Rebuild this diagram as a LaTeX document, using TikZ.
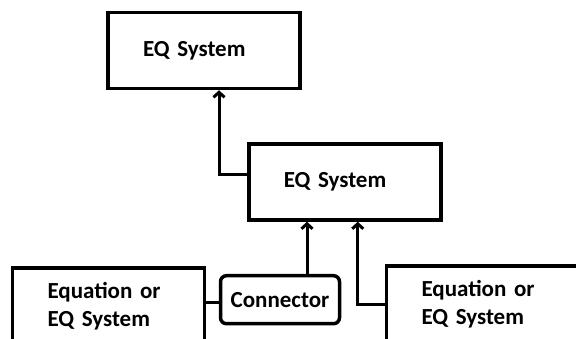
\documentclass[tikz,border=0pt]{standalone}
\usepackage{fontspec}
\setmainfont{Carlito}
\usetikzlibrary{arrows.meta}
\newcommand\lblfont{\bfseries\fontsize{23}{28}\selectfont\spaceskip 2pt\relax}
\begin{document}
\begin{tikzpicture}[x=1pt, y=-1pt,
  box/.style={draw, font=\lblfont, line width=3.5pt, minimum width=190pt, minimum height=76pt, text width=122pt, inner xsep=35pt, align=left},
  connbox/.style={draw, font=\lblfont, line width=3.5pt, rounded corners=6pt, minimum width=119pt, minimum height=48pt, inner sep=0pt},
  arr/.style={line width=3pt, -{Straight Barb[length=5pt,width=11pt]}}]
\useasboundingbox (0,0) rectangle (576,338);
\clip (0,0) rectangle (576,338);
\node[box] (top) at (204,50.5) {EQ System};
\node[box] (mid) at (344.75,182) {EQ System};
\node[box] (eqa) at (108.5,306) {Equation or\\EQ System};
\node[box] (eqb) at (482.5,304) {Equation or\\EQ System};
\node[connbox] (conn) at (280,299.7) {Connector};
\draw[arr] ([yshift=8pt]mid.west) -| ([xshift=15pt]top.south);
\draw[arr] ([xshift=27pt]conn.north) -- ([xshift=27pt]conn.north |- mid.south);
\draw[arr] (eqb.west) -| ([xshift=13pt]mid.south);
\draw[line width=3pt] ([yshift=-3pt]conn.west) -- ([yshift=-3pt]conn.west -| eqa.east);
\end{tikzpicture}
\end{document}
